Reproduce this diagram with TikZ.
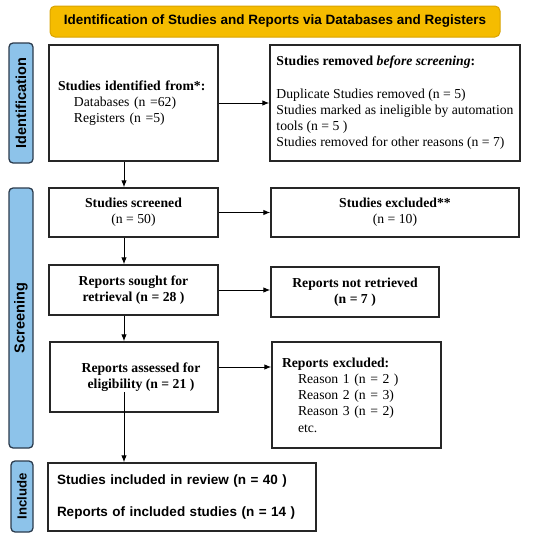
\documentclass[tikz,border=0pt]{standalone}
\usepackage{fontspec}
\setmainfont{Liberation Serif}
\setsansfont{Liberation Sans}
\usetikzlibrary{arrows.meta}

\definecolor{titlegold}{HTML}{F5BC00}
\definecolor{titleedge}{HTML}{D9A300}
\definecolor{phaseblue}{HTML}{8DC3EA}
\definecolor{phaseedge}{HTML}{2B3B4D}

\def \boxfont {\fontsize{13.7}{16.3}\selectfont}
\def \headfont {\sffamily\bfseries\fontsize{13.5}{16}\selectfont}
\def \phasefont {\sffamily\bfseries\fontsize{14.5}{16}\selectfont}
\def \colx {124}
\def \indent {\hspace*{16pt}}

\begin{document}
\begin{tikzpicture}[x=1pt, y=-1pt,
  flowbox/.style={draw=black!85, line width=1.3pt, inner sep=0pt, font=\boxfont},
  phase/.style={draw=phaseedge, fill=phaseblue, line width=1.3pt, rounded corners=4pt,
    rotate=90, inner sep=0pt, font=\phasefont, minimum height=24pt},
  arr/.style={-{Latex[length=7pt,width=5.5pt]}, line width=1pt}]
\useasboundingbox (0,0) rectangle (550,538);

\node[draw=titleedge, fill=titlegold, line width=1pt, rounded corners=5pt, inner sep=0pt,
  minimum width=450pt, minimum height=31pt, font=\headfont] (title) at (275,21.5)
  {Identification of Studies and Reports via Databases and Registers};

\node[phase, minimum width=120pt] (identphase) at (21,103) {Identification};
\node[phase, minimum width=260pt] (screenphase) at (21,318) {Screening};
\node[phase, minimum width=71pt, minimum height=22pt, font=\sffamily\bfseries\fontsize{13.2}{16}\selectfont] (includephase) at (22,496.5) {Include};

\node[flowbox, minimum width=169pt, minimum height=116pt, text width=151pt, align=left] (idfrom) at (133.5,103)
  {\textbf{Studies identified from*:}\\ \indent Databases (n =62)\\ \indent Registers (n =5)};
\node[flowbox, minimum width=250pt, minimum height=116pt, align=left] (removed) at (395,103)
  {\textbf{Studies removed \textit{before screening}:}\\[16pt]
   Duplicate Studies removed (n = 5)\\
   Studies marked as ineligible by automation\\
   tools (n = 5 )\\
   Studies removed for other reasons (n = 7)};

\node[flowbox, minimum width=169pt, minimum height=49pt, align=center] (screened) at (133.5,212.5)
  {\textbf{Studies screened}\\(n = 50)};
\node[flowbox, minimum width=248pt, minimum height=49pt, align=center] (excluded) at (395,212.5)
  {\textbf{Studies excluded**}\\(n = 10)};

\node[flowbox, minimum width=169pt, minimum height=50pt, align=center, font=\boxfont\bfseries] (sought) at (133.5,290)
  {Reports sought for\\retrieval (n = 28 )};
\node[flowbox, minimum width=168pt, minimum height=50pt, align=center, font=\boxfont\bfseries] (notret) at (355,292)
  {Reports not retrieved\\(n = 7 )};

\node[flowbox, minimum width=168pt, minimum height=70pt, align=center, font=\boxfont\bfseries] (assessed) at (134,377)
  {\hspace*{14pt}Reports assessed for\\\hspace*{14pt}eligibility (n = 21 )};
\node[flowbox, minimum width=169pt, minimum height=106pt, text width=149pt, align=left] (repexcl) at (356.5,395)
  {\textbf{Reports excluded:}\\ \indent Reason 1 (n = 2 )\\ \indent Reason 2 (n = 3)\\
   \indent Reason 3 (n = 2)\\ \indent etc.};

\node[flowbox, minimum width=268pt, minimum height=68pt, text width=250pt, align=left, font=\headfont] (included) at (182,497)
  {Studies included in review (n = 40 )\\[16pt] Reports of included studies (n = 14 )};

\coordinate (col) at (\colx,0);
\draw[arr] (idfrom.east) -- (removed.west);
\draw[arr] (screened.east) -- (excluded.west);
\draw[arr] (sought.east) -- (sought.east -| notret.west);
\draw[arr] ([yshift=10pt]assessed.east) -- ([yshift=10pt]assessed.east -| repexcl.west);
\draw[arr] (idfrom.south -| col) -- (screened.north -| col);
\draw[arr] (screened.south -| col) -- (sought.north -| col);
\draw[arr] (sought.south -| col) -- (assessed.north -| col);
\draw[arr] ([yshift=-15pt]assessed.center -| col) -- (included.north -| col);
\end{tikzpicture}
\end{document}
